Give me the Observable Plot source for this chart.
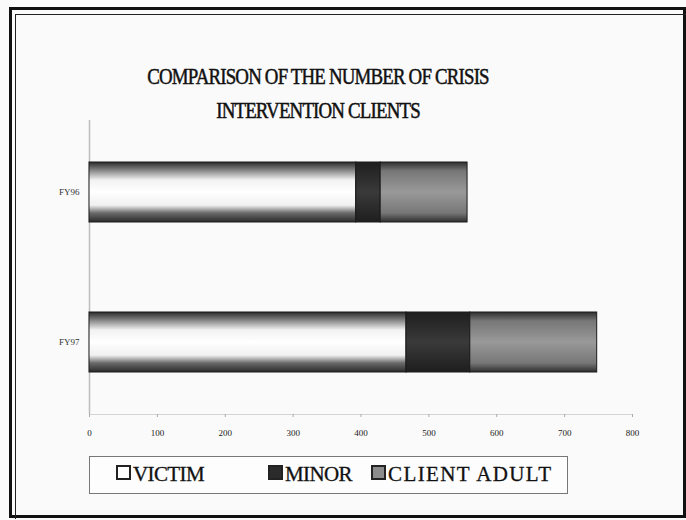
<!DOCTYPE html>
<html>
<head>
<meta charset="utf-8">
<script src="https://cdn.jsdelivr.net/npm/d3@7"></script>
<script src="https://cdn.jsdelivr.net/npm/@observablehq/plot@0.6"></script>
<style>
  html, body { margin: 0; padding: 0; background: #fafafa; }
  body { width: 686px; height: 520px; position: relative; overflow: hidden; font-family: "Liberation Serif", "DejaVu Serif", serif; }
  #outer { position: absolute; left: 9px; top: 7px; width: 671px; height: 505px; border: 3px solid #111; }
  #inner { position: absolute; left: 15px; top: 14px; width: 670px; height: 504px; border-left: 1.5px solid #222; border-top: 1.5px solid #222; }
  #title { position: absolute; left: 0; top: 60px; width: 636px; text-align: center; font-size: 23px; line-height: 34px; letter-spacing: -1px; color: #111; -webkit-text-stroke: 0.5px #111; transform: scaleX(0.82); transform-origin: 318px 0; }
  #chart { position: absolute; left: 0; top: 110px; }
  #legend { position: absolute; left: 89px; top: 456px; width: 477px; height: 36px; border: 1.5px solid #777; background: #fdfdfd; }
  .item { position: absolute; top: 5px; font-size: 21px; letter-spacing: -0.6px; color: #111; line-height: 24px; white-space: nowrap; -webkit-text-stroke: 0.3px #111; }
  .sw { display: inline-block; width: 11px; height: 11px; border: 2px solid #222; margin-right: 2px; vertical-align: 1px; }
</style>
</head>
<body>
<div id="outer"></div>
<div id="inner"></div>
<div id="title">COMPARISON OF THE NUMBER OF CRISIS<br>INTERVENTION CLIENTS</div>
<div id="chart"></div>
<div id="legend"></div>
<script>
const years = ["FY96", "FY97"];
const series = ["VICTIM", "MINOR", "CLIENT ADULT"];
const victim = [393, 467];
const minor = [36, 94];
const clientAdult = [128, 187];
const xTicks = [0, 100, 200, 300, 400, 500, 600, 700, 800];
const colors = ["#ffffff", "#2b2b2b", "#8c8c8c"];
const fillIds = ["url(#gVictim)", "url(#gMinor)", "url(#gAdult)"];

const valuesBySeries = [victim, minor, clientAdult];
const rows = [];
years.forEach((y, i) => {
  series.forEach((s, j) => rows.push({ year: y, series: s, value: valuesBySeries[j][i] }));
});

const chart = Plot.plot({
  width: 686,
  height: 340,
  marginLeft: 89,
  marginRight: 54,
  marginTop: 10,
  marginBottom: 36,
  style: { background: "transparent", fontFamily: "Liberation Serif, serif" },
  x: { domain: [0, 800], ticks: xTicks, label: null },
  y: { domain: years, paddingInner: 0.6, paddingOuter: 0.28, label: null },
  marks: [
    Plot.ruleX([0], { stroke: "#bdbdbd", strokeWidth: 1.5 }),
    Plot.frame({ anchor: "bottom", stroke: "#d4d4d4", strokeDasharray: "3,1" }),
    Plot.barX(rows, Plot.stackX({
      y: "year", x: "value", order: series,
      fill: d => fillIds[series.indexOf(d.series)],
      stroke: "#1a1a1a", strokeWidth: 1
    })),
    Plot.axisX({ ticks: xTicks, tickSize: 3, tickPadding: 12, fontSize: 9, stroke: "#aaa", fill: "#222", label: null }),
    Plot.axisY({ tickSize: 0, tickPadding: 10, fontSize: 9, fill: "#333", label: null })
  ]
});
document.getElementById("chart").appendChild(chart);

// gradient definitions to mimic the shaded bars
const svg = d3.select(chart);
const defs = svg.insert("defs", ":first-child");
function grad(id, stops) {
  const g = defs.append("linearGradient").attr("id", id).attr("x1", 0).attr("y1", 0).attr("x2", 0).attr("y2", 1);
  stops.forEach(([o, c]) => g.append("stop").attr("offset", o).attr("stop-color", c));
}
grad("gVictim", [[0, "#2a2a2a"], [0.12, "#7a7a7a"], [0.3, "#f2f2f2"], [0.5, "#ffffff"], [0.72, "#f0f0f0"], [0.85, "#6a6a6a"], [1, "#2a2a2a"]]);
grad("gMinor", [[0, "#1e1e1e"], [0.5, "#3a3a3a"], [1, "#1e1e1e"]]);
grad("gAdult", [[0, "#2e2e2e"], [0.15, "#777"], [0.5, "#999"], [0.85, "#777"], [1, "#2e2e2e"]]);

// legend
const legend = document.getElementById("legend");
const pos = [26, 178, 281];
const spacing = ["-0.6px", "-0.6px", "1.4px"];
series.forEach((s, j) => {
  const d = document.createElement("div");
  d.className = "item";
  d.style.left = pos[j] + "px";
  d.style.letterSpacing = spacing[j];
  const sw = document.createElement("span");
  sw.className = "sw";
  sw.style.background = colors[j];
  d.appendChild(sw);
  d.appendChild(document.createTextNode(s));
  legend.appendChild(d);
});
</script>
</body>
</html>
